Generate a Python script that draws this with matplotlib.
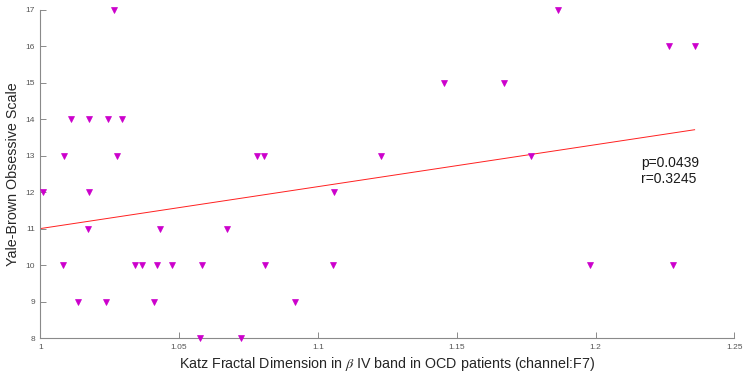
import matplotlib
matplotlib.use("Agg")
import matplotlib.pyplot as plt

plt.rcParams['font.family'] = ['Liberation Sans', 'DejaVu Sans']
plt.rcParams['mathtext.fontset'] = 'stix'

# Katz fractal dimension (x) and Y-BOCS score (y)
katz_fd = [1.0266, 1.1865,
           1.2263, 1.2357,
           1.1454, 1.1669,
           1.0109, 1.0176, 1.0243, 1.0294,
           1.0087, 1.0276, 1.0780, 1.0807, 1.1227, 1.1769,
           1.0008, 1.0175, 1.1058,
           1.0173, 1.0432, 1.0672,
           1.0083, 1.0340, 1.0368, 1.0421, 1.0475, 1.0583, 1.0810, 1.1055, 1.1981, 1.2278,
           1.0134, 1.0237, 1.0409, 1.0916,
           1.0577, 1.0722]
ybocs = [17, 17,
         16, 16,
         15, 15,
         14, 14, 14, 14,
         13, 13, 13, 13, 13, 13,
         12, 12, 12,
         11, 11, 11,
         10, 10, 10, 10, 10, 10, 10, 10, 10, 10,
         9, 9, 9, 9,
         8, 8]

# regression line endpoints
fit_x = [1.0, 1.2357]
fit_y = [11.0, 13.71]

stats_text = ["p=0.0439", "r=0.3245"]
x_ticks = [1.0, 1.05, 1.1, 1.15, 1.2, 1.25]
x_tick_labels = ["1", "1.05", "1.1", "1.15", "1.2", "1.25"]
y_ticks = [8, 9, 10, 11, 12, 13, 14, 15, 16, 17]

fig = plt.figure(figsize=(7.55, 3.78), dpi=100)
ax = fig.add_axes([0.0534, 0.1058, 0.9192, 0.8685])

ax.plot(katz_fd, ybocs, linestyle='none', marker='v', markersize=4.6,
        color='#cc00cc', markeredgewidth=0.5, zorder=3, clip_on=False)
ax.plot(fit_x, fit_y, color='#ff2020', linewidth=0.7, zorder=2)

ax.text(1.2165, 12.57, "\n".join(stats_text), fontsize=10, color='#1a1a1a',
        va='center', ha='left', linespacing=1.2)

ax.set_xlim(1.0, 1.25)
ax.set_ylim(8, 17)
ax.set_xticks(x_ticks)
ax.set_xticklabels(x_tick_labels)
ax.set_yticks(y_ticks)

for side in ['top', 'right']:
    ax.spines[side].set_visible(False)
for side in ['left', 'bottom']:
    ax.spines[side].set_color('#8a8a8a')
    ax.spines[side].set_linewidth(0.8)

ax.tick_params(direction='in', length=4.5, width=0.7, color='#8a8a8a',
               labelsize=6, labelcolor='#555555', pad=4)

ax.set_xlabel(r"Katz Fractal Dimension in $\beta$ IV band in OCD patients (channel:F7)",
              fontsize=10.3, color='#262626', labelpad=3)
ax.set_ylabel("Yale-Brown Obsessive Scale", fontsize=10.3, color='#262626', labelpad=4)

fig.savefig("out.png", dpi=100)
